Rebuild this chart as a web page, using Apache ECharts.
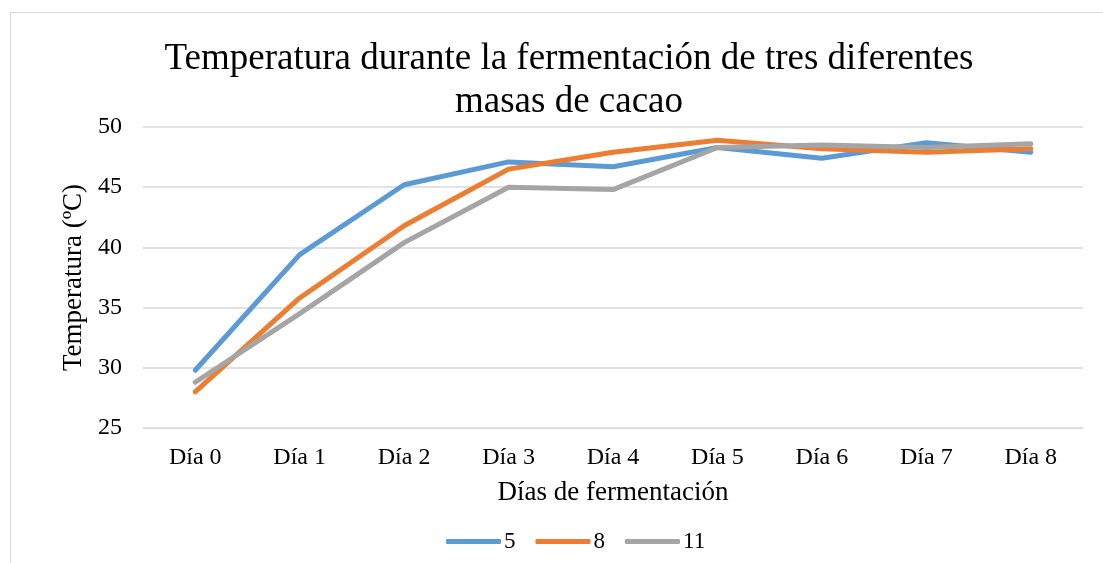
<!DOCTYPE html>
<html>
<head>
<meta charset="utf-8">
<script src="https://cdn.jsdelivr.net/npm/echarts@6/dist/echarts.min.js"></script>
<style>
  html, body { margin: 0; padding: 0; background: #fff; }
  #frame { position: absolute; left: 10px; top: 12px; width: 1100px; height: 560px; border: 1px solid #d9d9d9; box-sizing: border-box; }
  #chart { position: absolute; left: 0; top: 0; width: 1103px; height: 563px; }
</style>
</head>
<body>
<div id="frame"></div>
<div id="chart"></div>
<script>
  // datos
  const dias = ['Día 0', 'Día 1', 'Día 2', 'Día 3', 'Día 4', 'Día 5', 'Día 6', 'Día 7', 'Día 8']
  const masa5 = [29.8, 39.4, 45.2, 47.1, 46.7, 48.3, 47.4, 48.7, 47.9]
  const masa8 = [28.0, 35.8, 41.8, 46.5, 47.9, 48.9, 48.2, 47.9, 48.2]
  const masa11 = [28.8, 34.5, 40.4, 45.0, 44.8, 48.3, 48.5, 48.3, 48.6]
  const nombres = ['5', '8', '11']
  const colores = ['#5B9BD5', '#ED7D31', '#A5A5A5']

  const font = '"Liberation Serif", "Times New Roman", serif'
  const chart = echarts.init(document.getElementById('chart'))

  const mkSeries = (name, data, color) => ({
    name: name,
    type: 'line',
    data: data,
    symbol: 'none',
    smooth: false,
    lineStyle: { color: color, width: 5, cap: 'round', join: 'round' },
    itemStyle: { color: color },
    animation: false
  })

  chart.setOption({
    backgroundColor: 'transparent',
    title: {
      text: 'Temperatura durante la fermentación de tres diferentes\nmasas de cacao',
      left: 564,
      top: 33,
      textAlign: 'center',
      textStyle: { fontFamily: font, fontSize: 37, fontWeight: 'normal', color: '#000', lineHeight: 43 }
    },
    grid: { left: 143, right: 20, top: 127, bottom: 135, containLabel: false },
    legend: {
      data: nombres,
      top: 525,
      left: 441,
      icon: 'roundRect',
      itemWidth: 55,
      itemHeight: 5,
      itemGap: 20,
      textStyle: { fontFamily: font, fontSize: 23, color: '#000', padding: [0, 0, 0, -2] }
    },
    xAxis: {
      type: 'category',
      data: dias,
      boundaryGap: true,
      name: 'Días de fermentación',
      nameLocation: 'middle',
      nameGap: 51,
      nameTextStyle: { fontFamily: font, fontSize: 27, color: '#000' },
      axisLine: { show: true, lineStyle: { color: '#d9d9d9', width: 1 } },
      axisTick: { show: false },
      axisLabel: { fontFamily: font, fontSize: 24, color: '#000', margin: 18 }
    },
    yAxis: {
      type: 'value',
      min: 25,
      max: 50,
      interval: 5,
      name: 'Temperatura (ºC)',
      nameLocation: 'middle',
      nameGap: 47,
      nameTextStyle: { fontFamily: font, fontSize: 27, color: '#000' },
      axisLine: { show: false },
      axisTick: { show: false },
      axisLabel: { fontFamily: font, fontSize: 24, color: '#000', margin: 21 },
      splitLine: { lineStyle: { color: '#d9d9d9', width: 1.5 } }
    },
    series: [
      mkSeries(nombres[0], masa5, colores[0]),
      mkSeries(nombres[1], masa8, colores[1]),
      mkSeries(nombres[2], masa11, colores[2])
    ]
  })
</script>
</body>
</html>
